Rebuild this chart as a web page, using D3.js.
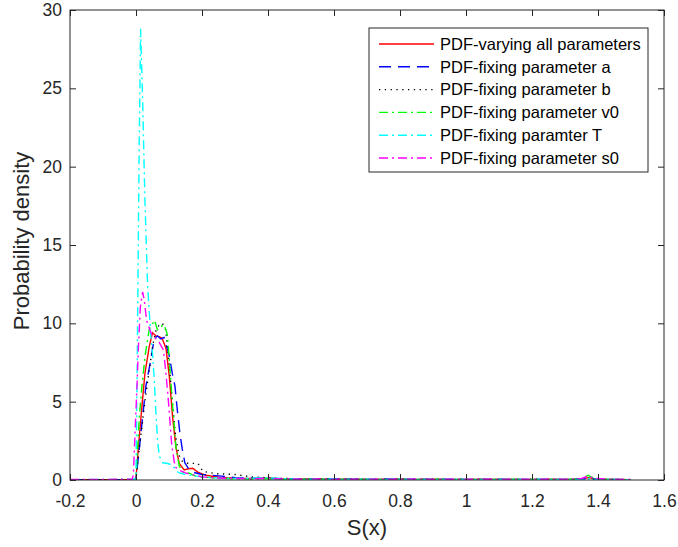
<!DOCTYPE html>
<html>
<head>
<meta charset="utf-8">
<script src="https://cdn.jsdelivr.net/npm/d3@7"></script>
<style>
  body { margin: 0; background: #fff; }
  text { font-family: Arial, "Liberation Sans", sans-serif; }
</style>
</head>
<body>
<div id="chart"></div>
<script>
// series: [S(x), probability density] pairs
var pdfAll = [[-0.2,0.02],[-0.1,0.02],[-0.005,0.03],[0,0.1],[0.008,2.3],[0.018,4.7],[0.027,6.8],[0.04,8.5],[0.05,9.4],[0.06,9.2],[0.07,9.15],[0.079,9.05],[0.091,8.4],[0.101,6.6],[0.111,4.0],[0.121,2.1],[0.131,1.06],[0.146,0.64],[0.16,0.72],[0.172,0.75],[0.187,0.5],[0.212,0.3],[0.25,0.18],[0.3,0.12],[0.35,0.1],[0.4,0.12],[0.45,0.07],[0.5,0.06],[0.55,0.08],[0.6,0.05],[0.65,0.06],[0.7,0.04],[0.75,0.05],[0.8,0.07],[0.85,0.04],[0.9,0.05],[0.95,0.03],[1.0,0.04],[1.05,0.05],[1.1,0.03],[1.15,0.04],[1.2,0.03],[1.25,0.05],[1.3,0.03],[1.35,0.06],[1.37,0.15],[1.4,0.04],[1.45,0.03],[1.5,0.02]];
var pdfFixA = [[-0.2,0.02],[-0.005,0.02],[0,0.1],[0.01,2.0],[0.02,4.0],[0.03,6.0],[0.045,7.7],[0.055,9.0],[0.065,9.2],[0.075,9.0],[0.085,9.1],[0.1,8.0],[0.11,6.8],[0.118,6.0],[0.125,4.5],[0.133,3.0],[0.14,2.0],[0.148,1.1],[0.16,0.7],[0.172,0.5],[0.2,0.35],[0.23,0.3],[0.26,0.25],[0.3,0.15],[0.35,0.12],[0.4,0.1],[0.45,0.08],[0.5,0.06],[0.55,0.05],[0.6,0.07],[0.65,0.05],[0.7,0.04],[0.75,0.06],[0.8,0.04],[0.85,0.05],[0.9,0.03],[0.95,0.05],[1.0,0.04],[1.05,0.03],[1.1,0.05],[1.15,0.03],[1.2,0.04],[1.25,0.03],[1.3,0.04],[1.35,0.05],[1.37,0.12],[1.4,0.03],[1.45,0.04],[1.5,0.02]];
var pdfFixB = [[-0.2,0.02],[-0.005,0.02],[0,0.1],[0.01,2.0],[0.02,3.8],[0.03,5.5],[0.04,7.0],[0.05,8.5],[0.06,9.5],[0.07,9.9],[0.08,10.0],[0.09,9.6],[0.1,7.5],[0.11,5.0],[0.12,2.8],[0.13,1.6],[0.14,1.2],[0.158,1.06],[0.188,1.06],[0.203,0.55],[0.215,0.5],[0.245,0.4],[0.3,0.35],[0.35,0.2],[0.4,0.14],[0.45,0.1],[0.5,0.08],[0.55,0.06],[0.6,0.05],[0.65,0.07],[0.7,0.05],[0.75,0.04],[0.8,0.06],[0.85,0.04],[0.9,0.05],[0.95,0.04],[1.0,0.03],[1.05,0.05],[1.1,0.04],[1.15,0.03],[1.2,0.05],[1.25,0.03],[1.3,0.04],[1.35,0.04],[1.37,0.1],[1.4,0.04],[1.45,0.03],[1.5,0.02]];
var pdfFixV0 = [[-0.2,0.02],[-0.005,0.02],[0,0.2],[0.005,2.0],[0.01,4.0],[0.018,6.0],[0.028,8.0],[0.04,9.6],[0.056,10.2],[0.065,9.6],[0.075,9.8],[0.085,9.9],[0.095,9.3],[0.1,7.9],[0.11,5.0],[0.121,2.1],[0.131,0.9],[0.141,0.5],[0.16,0.45],[0.18,0.25],[0.25,0.1],[0.3,0.08],[0.35,0.06],[0.4,0.08],[0.45,0.05],[0.5,0.04],[0.55,0.05],[0.6,0.03],[0.65,0.04],[0.7,0.05],[0.75,0.03],[0.8,0.04],[0.85,0.03],[0.9,0.05],[0.95,0.03],[1.0,0.04],[1.05,0.03],[1.1,0.04],[1.15,0.05],[1.2,0.03],[1.25,0.04],[1.3,0.03],[1.35,0.08],[1.37,0.3],[1.39,0.08],[1.45,0.03],[1.5,0.02]];
var pdfFixT = [[-0.2,0.02],[-0.003,0.05],[0,0.3],[0.004,8],[0.009,20],[0.014,28.8],[0.02,24.3],[0.027,17.9],[0.035,12.5],[0.044,9.4],[0.05,8.1],[0.056,6.2],[0.061,4.0],[0.066,2.35],[0.071,1.5],[0.081,1.1],[0.096,1.05],[0.111,0.95],[0.121,0.6],[0.131,0.45],[0.15,0.35],[0.2,0.2],[0.25,0.12],[0.3,0.1],[0.35,0.12],[0.4,0.15],[0.45,0.08],[0.5,0.06],[0.55,0.05],[0.6,0.06],[0.65,0.04],[0.7,0.05],[0.75,0.04],[0.8,0.06],[0.85,0.04],[0.9,0.03],[0.95,0.05],[1.0,0.04],[1.05,0.03],[1.1,0.04],[1.15,0.03],[1.2,0.04],[1.25,0.05],[1.3,0.03],[1.35,0.05],[1.37,0.1],[1.4,0.04],[1.45,0.03],[1.5,0.02]];
var pdfFixS0 = [[-0.2,0.03],[-0.012,0.05],[-0.008,0.3],[-0.003,3.0],[0.003,6.0],[0.007,8.3],[0.013,11.0],[0.02,12.0],[0.025,11.5],[0.032,10.2],[0.045,9.4],[0.053,9.15],[0.07,8.8],[0.083,8.3],[0.09,7.0],[0.098,5.1],[0.108,2.3],[0.118,0.85],[0.133,0.6],[0.15,0.45],[0.17,0.35],[0.2,0.2],[0.25,0.12],[0.3,0.1],[0.35,0.08],[0.4,0.1],[0.45,0.07],[0.5,0.05],[0.55,0.06],[0.6,0.04],[0.65,0.05],[0.7,0.06],[0.75,0.04],[0.8,0.05],[0.85,0.06],[0.9,0.04],[0.95,0.05],[1.0,0.04],[1.05,0.05],[1.1,0.04],[1.15,0.05],[1.2,0.04],[1.25,0.05],[1.3,0.04],[1.35,0.1],[1.37,0.25],[1.39,0.1],[1.45,0.04],[1.5,0.03]];

var seriesNames = ["PDF-varying all parameters", "PDF-fixing parameter a", "PDF-fixing parameter b",
                   "PDF-fixing parameter v0", "PDF-fixing paramter T", "PDF-fixing parameter s0"];
var xTicks = [-0.2, 0, 0.2, 0.4, 0.6, 0.8, 1, 1.2, 1.4, 1.6];
var yTicks = [0, 5, 10, 15, 20, 25, 30];

var series = [
  {name: seriesNames[0], pts: pdfAll,   color: "#ff0000", dash: null},
  {name: seriesNames[1], pts: pdfFixA,  color: "#0000ff", dash: "12,7"},
  {name: seriesNames[2], pts: pdfFixB,  color: "#000000", dash: "1.3,4.5"},
  {name: seriesNames[3], pts: pdfFixV0, color: "#00ff00", dash: "9,4,2,4"},
  {name: seriesNames[4], pts: pdfFixT,  color: "#00ffff", dash: "9,4,2,4"},
  {name: seriesNames[5], pts: pdfFixS0, color: "#ff00ff", dash: "9,4,2,4"}
];

var W = 678, H = 547;
var margin = {top: 10, right: 14, bottom: 67, left: 70},
    width = W - margin.left - margin.right,
    height = H - margin.top - margin.bottom;
var axisColor = "#262626";

var svg = d3.select("#chart").append("svg")
    .attr("width", W)
    .attr("height", H)
  .append("g")
    .attr("transform", "translate(" + margin.left + "," + margin.top + ")");

var x = d3.scaleLinear().domain([-0.2, 1.6]).range([0, width]);
var y = d3.scaleLinear().domain([0, 30]).range([height, 0]);

svg.append("clipPath").attr("id", "clip")
  .append("rect").attr("width", width).attr("height", height);

var line = d3.line()
    .x(function(d) { return x(d[0]); })
    .y(function(d) { return y(d[1]); });

// curves
var plot = svg.append("g").attr("clip-path", "url(#clip)");
series.forEach(function(s) {
  plot.append("path")
    .datum(s.pts)
    .attr("fill", "none")
    .attr("stroke", s.color)
    .attr("stroke-width", 1.4)
    .attr("stroke-dasharray", s.dash)
    .attr("d", line);
});

// axes, MATLAB style box with inward ticks
function styleAxis(g) {
  g.select(".domain").remove();
  g.selectAll(".tick line").attr("stroke", axisColor);
  g.selectAll(".tick text").attr("fill", axisColor).style("font-size", "17.5px");
}
var plain = function(d) { return String(d); };
svg.append("g")
    .attr("transform", "translate(0," + height + ")")
    .call(d3.axisBottom(x).tickValues(xTicks).tickSizeInner(-6).tickPadding(15).tickFormat(plain))
    .call(styleAxis);
svg.append("g")
    .call(d3.axisTop(x).tickValues(xTicks).tickSizeInner(-6).tickFormat(""))
    .call(styleAxis);
svg.append("g")
    .call(d3.axisLeft(y).tickValues(yTicks).tickSizeInner(-6).tickPadding(8).tickFormat(plain))
    .call(styleAxis);
svg.append("g")
    .attr("transform", "translate(" + width + ",0)")
    .call(d3.axisRight(y).tickValues(yTicks).tickSizeInner(-6).tickFormat(""))
    .call(styleAxis);

svg.append("rect")
    .attr("width", width).attr("height", height)
    .attr("fill", "none").attr("stroke", axisColor).attr("stroke-width", 1);

// axis labels
svg.append("text")
    .attr("x", width / 2).attr("y", height + 55)
    .attr("text-anchor", "middle")
    .attr("fill", axisColor)
    .style("font-size", "22px")
    .text("S(x)");
svg.append("text")
    .attr("transform", "rotate(-90)")
    .attr("x", -height / 2 + 4).attr("y", -41)
    .attr("text-anchor", "middle")
    .attr("fill", axisColor)
    .style("font-size", "22px")
    .text("Probability density");

// legend
var lg = svg.append("g").attr("transform", "translate(" + (369 - margin.left) + "," + (28 - margin.top) + ")");
lg.append("rect")
    .attr("width", 279).attr("height", 144)
    .attr("fill", "#fff").attr("stroke", axisColor).attr("stroke-width", 1);
series.forEach(function(s, i) {
  var yy = 16 + i * 22.8;
  lg.append("line")
    .attr("x1", 10).attr("x2", 65).attr("y1", yy).attr("y2", yy)
    .attr("stroke", s.color).attr("stroke-width", 1.4)
    .attr("stroke-dasharray", s.dash);
  lg.append("text")
    .attr("x", 71).attr("y", yy)
    .attr("dy", "0.35em")
    .attr("fill", "#000")
    .style("font-size", "16.5px")
    .text(s.name);
});
</script>
</body>
</html>
